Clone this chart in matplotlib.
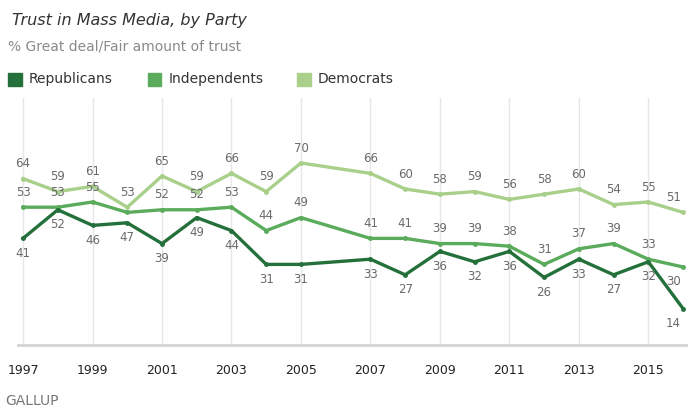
import matplotlib
matplotlib.use("Agg")
import matplotlib.pyplot as plt
from matplotlib.patches import Rectangle

plt.rcParams['font.family'] = ['DejaVu Sans']

# Daten (Gallup: Vertrauen in Massenmedien nach Partei)
years = [1997, 1998, 1999, 2000, 2001, 2002, 2003, 2004, 2005,
         2007, 2008, 2009, 2010, 2011, 2012, 2013, 2014, 2015, 2016]
democrats = [64, 59, 61, 53, 65, 59, 66, 59, 70,
             66, 60, 58, 59, 56, 58, 60, 54, 55, 51]
independents = [53, 53, 55, 51, 52, 52, 53, 44, 49,
                41, 41, 39, 39, 38, 31, 37, 39, 33, 30]
republicans = [41, 52, 46, 47, 39, 49, 44, 31, 31,
               33, 27, 36, 32, 36, 26, 33, 27, 32, 14]
xticks = list(range(1997, 2017, 2))

c_rep = '#24703a'
c_ind = '#5aab5c'
c_dem = '#a9d08b'
label_col = '#6a6a6a'

fig = plt.figure(figsize=(6.88, 4.11), dpi=100)
ax = fig.add_axes([0.0259, 0.1606, 0.9745, 0.601])

for x in xticks:
    ax.axvline(x, color='#e6e6e6', lw=1, zorder=0)

ax.plot(years, democrats, color=c_dem, lw=2.4, marker='o', ms=2.5, zorder=3)
ax.plot(years, independents, color=c_ind, lw=2.4, marker='o', ms=2.5, zorder=4)
ax.plot(years, republicans, color=c_rep, lw=2.4, marker='o', ms=2.5, zorder=5)

# Beschriftungen der Punkte (letzter Punkt etwas nach links, sonst abgeschnitten)
for x, v in zip(years, democrats):
    dx = -7 if x == 2016 else 0
    ax.annotate(str(v), (x, v), xytext=(dx, 6), textcoords='offset points',
                ha='center', va='bottom', fontsize=8.5, color=label_col)
for x, v in zip(years, independents):
    if x == 2000:
        continue
    if x == 2016:
        ax.annotate(str(v), (x, v), xytext=(-7, -6), textcoords='offset points',
                    ha='center', va='top', fontsize=8.5, color=label_col)
        continue
    ax.annotate(str(v), (x, v), xytext=(0, 6), textcoords='offset points',
                ha='center', va='bottom', fontsize=8.5, color=label_col)
for x, v in zip(years, republicans):
    dx = -7 if x == 2016 else 0
    ax.annotate(str(v), (x, v), xytext=(dx, -6), textcoords='offset points',
                ha='center', va='top', fontsize=8.5, color=label_col)

ax.set_xlim(1996.85, 2016.15)
ax.set_ylim(0, 95)
ax.set_xticks(xticks)
ax.set_xticklabels([str(y) for y in xticks], fontsize=9, color='#222222')
ax.set_yticks([])
ax.tick_params(axis='x', length=0, pad=14)
for s in ['top', 'right', 'left']:
    ax.spines[s].set_visible(False)
ax.spines['bottom'].set_color('#d4d4d4')
ax.spines['bottom'].set_linewidth(2)

# Titel und Legende
fig.text(0.017, 0.95, 'Trust in Mass Media, by Party', fontsize=11.5,
         style='italic', color='#333333', va='center')
fig.text(0.012, 0.888, '% Great deal/Fair amount of trust', fontsize=10,
         color='#8a8a8a', va='center')
for xpos, name, col in [(0.012, 'Republicans', c_rep),
                        (0.215, 'Independents', c_ind),
                        (0.432, 'Democrats', c_dem)]:
    fig.patches.append(Rectangle((xpos, 0.79), 0.0195, 0.033, color=col,
                                 transform=fig.transFigure, figure=fig))
    fig.text(xpos + 0.03, 0.807, name, fontsize=10, color='#333333', va='center')

fig.text(0.008, 0.025, 'GALLUP', fontsize=10, color='#777777', va='center')

fig.savefig('out.png', dpi=100)
